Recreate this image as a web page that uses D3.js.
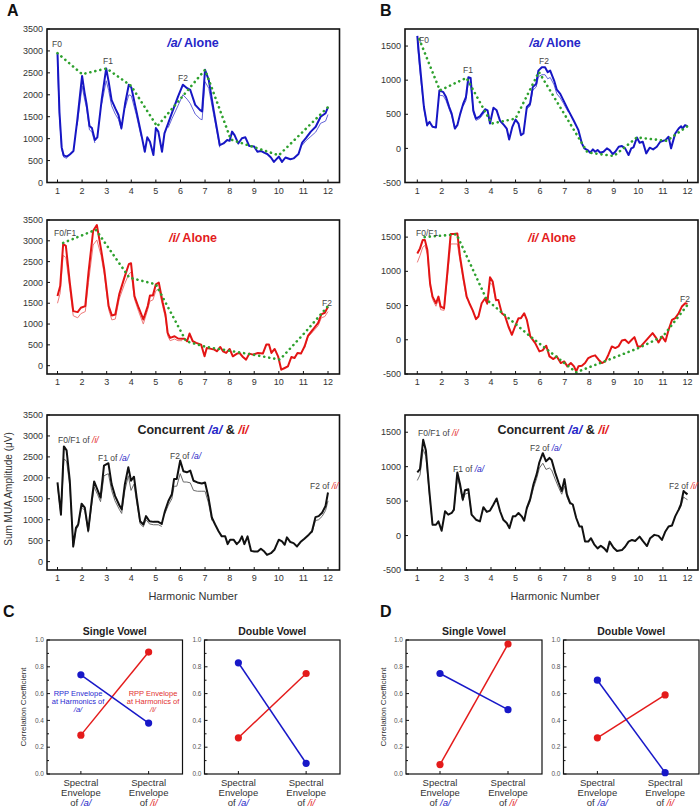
<!DOCTYPE html>
<html><head><meta charset="utf-8">
<script src="https://cdn.jsdelivr.net/npm/d3@7"></script>
<style>body{margin:0;background:#fff}svg{display:block}</style>
</head><body>
<script>
// ---------------- DATA ----------------
const harmonicTicks = [1,2,3,4,5,6,7,8,9,10,11,12];
const ticksA = [0,500,1000,1500,2000,2500,3000,3500];
const ticksB = [-500,0,500,1000,1500];

// Panel A, /a/ alone
const aAloneThick = [[1,2950],[1.08,1600],[1.17,800],[1.25,620],[1.38,590],[1.5,640],[1.65,720],[1.8,1400],[2.0,2430],[2.1,2050],[2.18,1800],[2.3,1290],[2.4,1240],[2.52,970],[2.62,1030],[2.8,1900],[2.98,2600],[3.08,2300],[3.2,1880],[3.35,1690],[3.48,1540],[3.6,1240],[3.75,1800],[3.9,2230],[4.0,2170],[4.2,1650],[4.4,1120],[4.55,700],[4.65,1030],[4.76,930],[4.9,625],[5.0,1240],[5.1,1160],[5.25,700],[5.35,1120],[5.5,1350],[5.65,1580],[5.9,1960],[6.1,2230],[6.27,2150],[6.4,2110],[6.6,1770],[6.8,1650],[6.88,1620],[7.0,2570],[7.15,2340],[7.35,1650],[7.6,850],[7.75,890],[7.9,970],[8.0,950],[8.1,1160],[8.2,1080],[8.35,890],[8.5,1010],[8.64,1030],[8.8,830],[9.0,820],[9.13,700],[9.27,720],[9.4,680],[9.53,650],[9.68,570],[9.8,470],[10.0,590],[10.13,470],[10.27,570],[10.47,530],[10.6,550],[10.8,650],[10.95,910],[11.1,1010],[11.3,1160],[11.5,1270],[11.7,1500],[11.9,1580],[12.0,1720]];
const aAloneThin = [
 [[1,2650],[1.08,1500],[1.17,760],[1.25,580],[1.38,550]],
 [[1.8,1300],[2.0,2200],[2.1,1900],[2.18,1700],[2.3,1200],[2.4,1150],[2.52,900]],
 [[2.8,1800],[2.98,2320],[3.08,2100],[3.2,1750],[3.35,1560],[3.48,1440],[3.6,1200]],
 [[3.75,1700],[3.9,2000],[4.0,1980],[4.2,1550],[4.4,1050]],
 [[5.5,1250],[5.65,1450],[5.9,1750],[6.1,2000],[6.27,1900],[6.4,1800],[6.6,1560],[6.8,1450],[6.88,1430],[7.0,2300],[7.15,2150],[7.35,1550],[7.6,800]],
 [[10.95,850],[11.1,950],[11.3,1050],[11.5,1150],[11.7,1350],[11.9,1400],[12.0,1550]]
];
const aAloneEnv = [[1,2950],[2,2470],[3,2600],[4,2200],[5.05,1280],[7,2570],[8.05,980],[10,620],[12,1720]];

// Panel A, /i/ alone
const iAloneThick = [[1,1673],[1.11,1915],[1.23,2920],[1.34,2880],[1.5,1995],[1.64,1311],[1.82,1287],[1.95,1392],[2.13,1432],[2.26,2236],[2.45,3242],[2.6,3379],[2.77,2800],[2.9,2317],[3.08,1432],[3.21,1207],[3.35,1231],[3.51,1714],[3.72,2116],[3.9,2438],[3.99,2462],[4.13,1673],[4.3,1392],[4.49,1110],[4.67,1432],[4.76,1689],[4.88,1689],[5.0,1955],[5.12,1995],[5.28,1512],[5.39,1231],[5.48,788],[5.58,668],[5.76,708],[5.9,652],[6.07,644],[6.17,644],[6.27,587],[6.37,772],[6.5,587],[6.64,547],[6.84,507],[6.98,225],[7.07,426],[7.2,410],[7.38,386],[7.48,346],[7.62,450],[7.73,346],[7.86,306],[8.0,402],[8.13,225],[8.3,290],[8.4,306],[8.54,209],[8.67,145],[8.8,290],[8.95,265],[9.15,306],[9.35,290],[9.49,507],[9.6,507],[9.7,306],[9.83,402],[9.97,225],[10.1,-97],[10.24,-56],[10.37,-16],[10.51,209],[10.64,185],[10.76,306],[10.9,290],[11.05,467],[11.19,724],[11.39,869],[11.6,1030],[11.73,1231],[11.87,1271],[12.0,1416]];
const iAloneThin = [
 [[1,1500],[1.11,1750],[1.23,2650],[1.34,2600],[1.5,1850],[1.64,1200],[1.82,1150],[1.95,1250],[2.13,1300],[2.26,2000],[2.45,2900],[2.6,3020],[2.77,2650],[2.9,2200],[3.08,1350],[3.21,1100],[3.35,1120],[3.51,1600],[3.72,1950],[3.9,2200],[3.99,2250],[4.13,1600],[4.3,1300],[4.49,1000],[4.67,1350],[4.76,1550],[4.88,1580],[5.0,1800],[5.12,1850],[5.28,1420],[5.39,1150],[5.48,720],[5.58,600],[5.76,640],[5.9,600],[6.07,600]],
 [[11.05,430],[11.19,690],[11.39,820],[11.6,960],[11.73,1150],[11.87,1180],[12.0,1300]]
];
const iAloneEnv = [[1.23,2950],[2.56,3266],[3.92,2116],[5.0,1955],[6.23,587],[7.05,450],[8.95,265],[10.04,145],[11.05,788],[12,1432]];

// Panel A, concurrent
const concThick = [[1,1890],[1.14,1126],[1.26,2751],[1.37,2655],[1.5,1931],[1.64,362],[1.75,805],[1.84,885],[1.98,1384],[2.11,1287],[2.25,740],[2.39,1448],[2.49,1915],[2.63,1706],[2.75,1529],[2.89,2293],[3.07,2349],[3.2,1850],[3.34,1569],[3.51,1352],[3.61,1247],[3.74,1850],[3.88,2253],[3.99,1931],[4.11,2027],[4.22,1529],[4.36,965],[4.49,885],[4.6,1086],[4.74,965],[4.9,949],[5.1,949],[5.24,901],[5.37,1207],[5.51,1448],[5.65,1609],[5.74,1971],[5.85,1971],[5.99,2413],[6.12,2156],[6.26,2132],[6.4,2172],[6.53,1931],[6.69,1890],[6.87,1866],[7.0,1890],[7.14,1529],[7.28,1046],[7.41,885],[7.55,724],[7.68,603],[7.82,603],[7.92,418],[8.02,523],[8.16,523],[8.29,418],[8.4,483],[8.5,603],[8.6,418],[8.73,603],[8.87,257],[9.0,241],[9.14,241],[9.27,306],[9.41,241],[9.52,161],[9.68,201],[9.82,282],[10.0,523],[10.13,483],[10.24,402],[10.33,579],[10.47,467],[10.6,442],[10.74,362],[10.88,467],[11.04,547],[11.22,644],[11.35,724],[11.49,1062],[11.62,1086],[11.76,1166],[11.9,1327],[12.0,1649]];
const concThin = [
 [[1,1800],[1.14,1100],[1.26,2450],[1.37,2400],[1.5,1800],[1.64,340],[1.75,760],[1.84,840],[1.98,1300],[2.11,1220],[2.25,700],[2.39,1350],[2.49,1780],[2.63,1600],[2.75,1430],[2.89,2050],[3.07,2100],[3.2,1700],[3.34,1450],[3.51,1250],[3.61,1150],[3.74,1700],[3.88,2050],[3.99,1700],[4.11,1850],[4.22,1420],[4.36,900],[4.49,830],[4.6,1000],[4.74,900],[4.9,880],[5.1,880],[5.24,840]],
 [[5.37,1150],[5.51,1350],[5.65,1500],[5.74,1800],[5.85,1800],[5.99,2100],[6.12,1900],[6.26,1900],[6.4,1880],[6.53,1700],[6.69,1680],[6.87,1680],[7.0,1680],[7.14,1400],[7.28,980]],
 [[11.35,690],[11.49,980],[11.62,1000],[11.76,1080],[11.9,1220],[12.0,1450]]
];

// Panel B, /a/ alone
const aAloneThickB = [[1,1650],[1.1,1250],[1.18,946],[1.27,607],[1.4,340],[1.5,388],[1.62,316],[1.76,306],[1.9,850],[2.06,825],[2.17,752],[2.3,607],[2.4,510],[2.53,291],[2.63,340],[2.75,510],[2.87,655],[2.98,752],[3.08,1044],[3.17,1034],[3.28,558],[3.39,437],[3.55,470],[3.76,573],[3.86,558],[3.96,364],[4.1,597],[4.23,558],[4.37,403],[4.53,340],[4.64,291],[4.74,131],[4.87,316],[5.0,422],[5.12,364],[5.22,194],[5.32,218],[5.46,607],[5.59,655],[5.7,898],[5.84,946],[5.93,1140],[6.07,1189],[6.2,1189],[6.31,1117],[6.41,1140],[6.57,995],[6.68,860],[6.82,800],[6.95,703],[7.15,558],[7.36,413],[7.56,267],[7.7,73],[7.8,0],[7.93,-24],[8.04,-63],[8.15,-15],[8.24,-49],[8.34,-24],[8.45,-63],[8.58,-49],[8.72,0],[8.83,-24],[8.96,-83],[9.06,-49],[9.2,24],[9.33,34],[9.46,0],[9.6,-97],[9.71,0],[9.8,15],[9.94,160],[10.05,83],[10.18,97],[10.32,-73],[10.46,10],[10.6,-15],[10.75,24],[10.89,97],[11.1,121],[11.23,170],[11.33,0],[11.5,218],[11.64,291],[11.74,325],[11.8,291],[11.9,340],[12.0,325]];
const aAloneThinB = [
 [[1,1550],[1.1,1150],[1.18,880],[1.27,580],[1.4,320]],
 [[1.9,780],[2.06,770],[2.17,700],[2.3,570],[2.4,480],[2.53,280]],
 [[2.87,620],[2.98,700],[3.08,980],[3.17,960],[3.28,520],[3.39,410],[3.55,440],[3.76,540]],
 [[5.46,580],[5.59,620],[5.7,850],[5.84,900],[5.93,1050],[6.07,1080],[6.2,1080],[6.31,1020],[6.41,1040],[6.57,930],[6.68,800],[6.82,740],[6.95,660],[7.15,530]]
];
const aAloneEnvB = [[1.08,1600],[1.92,850],[3.0,1034],[4.03,364],[5.0,437],[5.95,1120],[7.93,-60],[9.0,-112],[9.94,160],[11.15,110],[12,325]];

// Panel B, /i/ alone
const iAloneThickB = [[1,1262],[1.11,1335],[1.22,1456],[1.31,1456],[1.41,1311],[1.52,825],[1.62,631],[1.76,534],[1.86,631],[1.95,485],[2.09,461],[2.22,971],[2.36,1544],[2.49,1544],[2.63,1553],[2.74,1214],[2.88,898],[3.01,631],[3.12,534],[3.26,427],[3.39,301],[3.49,340],[3.62,534],[3.76,607],[3.85,534],[3.96,913],[4.07,850],[4.2,583],[4.3,583],[4.44,388],[4.57,350],[4.71,194],[4.85,73],[4.98,194],[5.12,316],[5.22,316],[5.35,388],[5.46,291],[5.6,49],[5.8,-49],[5.97,-170],[6.1,-155],[6.25,-87],[6.38,-243],[6.54,-282],[6.68,-243],[6.84,-340],[6.98,-316],[7.11,-388],[7.25,-340],[7.38,-388],[7.47,-461],[7.56,-388],[7.7,-379],[7.83,-340],[7.96,-267],[8.1,-243],[8.24,-228],[8.38,-291],[8.51,-340],[8.65,-316],[8.78,-218],[8.92,-97],[9.06,-121],[9.19,-97],[9.33,-10],[9.46,0],[9.6,-49],[9.73,0],[9.84,39],[9.97,-97],[10.1,-97],[10.28,-24],[10.46,49],[10.58,97],[10.73,24],[10.82,-39],[10.96,49],[11.1,-24],[11.23,146],[11.37,291],[11.5,316],[11.64,388],[11.77,485],[11.91,534],[12.0,524]];
const iAloneThinB = [
 [[1,1130],[1.11,1230],[1.22,1350],[1.31,1380],[1.41,1250],[1.52,780],[1.62,590],[1.76,490],[1.86,590],[1.95,440],[2.09,430],[2.22,900],[2.36,1400],[2.49,1400],[2.63,1400],[2.74,1150],[2.88,850],[3.01,600]],
 [[3.76,580],[3.85,510],[3.96,830],[4.07,800],[4.2,560]]
];
const iAloneEnvB = [[1.3,1500],[2.6,1540],[3.83,583],[5.6,49],[7.47,-475],[8.72,-301],[10.0,-121],[11.0,49],[12,510]];

// Panel B, concurrent
const concThickB = [[1,917],[1.11,966],[1.24,1392],[1.35,1235],[1.49,647],[1.62,157],[1.76,157],[1.86,206],[1.99,69],[2.13,353],[2.26,304],[2.4,328],[2.49,377],[2.63,917],[2.74,745],[2.85,525],[2.94,657],[3.08,672],[3.21,304],[3.39,230],[3.55,206],[3.69,412],[3.83,343],[3.96,363],[4.1,451],[4.23,539],[4.37,353],[4.5,230],[4.64,181],[4.75,108],[4.89,279],[4.99,279],[5.12,328],[5.25,279],[5.35,216],[5.46,402],[5.59,525],[5.73,745],[5.86,892],[5.97,1064],[6.11,1196],[6.24,1078],[6.38,1127],[6.47,1098],[6.61,917],[6.75,770],[6.88,647],[6.99,819],[7.09,598],[7.22,475],[7.33,451],[7.47,255],[7.6,132],[7.7,132],[7.83,-88],[7.96,-88],[8.07,-39],[8.2,-127],[8.34,-186],[8.47,-147],[8.61,-186],[8.72,-235],[8.83,-88],[8.99,-176],[9.13,-225],[9.33,-211],[9.46,-162],[9.6,-88],[9.74,-64],[9.87,-78],[10.05,-15],[10.18,-78],[10.35,-152],[10.48,-39],[10.65,10],[10.82,-5],[10.96,-64],[11.1,59],[11.23,132],[11.37,147],[11.5,279],[11.64,377],[11.73,451],[11.84,647],[11.91,623],[12.0,598]];
const concThinB = [
 [[1,800],[1.11,880],[1.24,1250],[1.35,1150],[1.49,600],[1.62,150]],
 [[2.49,360],[2.63,850],[2.74,700],[2.85,500],[2.94,600],[3.08,620],[3.21,290]],
 [[5.46,380],[5.59,490],[5.73,690],[5.86,830],[5.97,980],[6.11,1050],[6.24,960],[6.38,980],[6.47,950],[6.61,820],[6.75,700],[6.88,600],[6.99,720],[7.09,560],[7.22,450]],
 [[11.64,360],[11.73,420],[11.84,560],[11.91,540],[12.0,520]]
];

// Panels C and D: correlation coefficients (values at /a/ envelope, /i/ envelope)
const corrTicks = [0,0.2,0.4,0.6,0.8,1.0];
const corrMinor = [0.1,0.3,0.5,0.7,0.9];
const cSingleBlue = [0.74,0.38], cSingleRed = [0.29,0.91];
const cDoubleBlue = [0.83,0.08], cDoubleRed = [0.27,0.75];
const dSingleBlue = [0.75,0.48], dSingleRed = [0.07,0.97];
const dDoubleBlue = [0.70,0.01], dDoubleRed = [0.27,0.59];

// ---------------- DRAWING ----------------
const FONT = "'Liberation Sans', Arial, Helvetica, sans-serif";
const BLUE = "#1616c4", BLUE_T = "#6464d8";
const RED = "#e31414", RED_T = "#ee7a7a";
const BLACK = "#111", BLACK_T = "#6a6a6a";
const GREEN = "#2ea12e";
const GRAY = "#333";

const svg = d3.select("body").append("svg").attr("width",700).attr("height",808)
  .style("font-family",FONT);

const colA = {fx0:47, fx1:339.5, r:[57.5,328]};
const colB = {fx0:405, fx1:698, r:[417.3,687.5]};
const rows = [{y0:29,y1:182.5},{y0:220,y1:374},{y0:415,y1:570}];

function mainPanel(col,row,yDom,yTicks,thick,thin,env,col1,col2,clipId){
  const x = d3.scaleLinear().domain([1,12]).range(col.r);
  const y = d3.scaleLinear().domain(yDom).range([row.y1,row.y0]);
  const g = svg.append("g");
  g.append("clipPath").attr("id",clipId).append("rect")
    .attr("x",col.fx0).attr("y",row.y0).attr("width",col.fx1-col.fx0).attr("height",row.y1-row.y0);
  const line = d3.line().x(d=>x(d[0])).y(d=>y(d[1]));
  const pg = g.append("g").attr("clip-path",`url(#${clipId})`);
  thin.forEach(seg=>pg.append("path").attr("d",line(seg)).attr("fill","none")
     .attr("stroke",col2).attr("stroke-width",1).attr("stroke-linejoin","round"));
  pg.append("path").attr("d",line(thick)).attr("fill","none").attr("stroke",col1)
     .attr("stroke-width",2).attr("stroke-linejoin","round");
  if(env){
    pg.append("path").attr("d",line(env)).attr("fill","none").attr("stroke",GREEN)
      .attr("stroke-width",2.6).attr("stroke-linecap","round").attr("stroke-dasharray","0.1,5");
  }
  // frame
  g.append("rect").attr("x",col.fx0).attr("y",row.y0).attr("width",col.fx1-col.fx0)
    .attr("height",row.y1-row.y0).attr("fill","none").attr("stroke","#111").attr("stroke-width",1.6);
  // y ticks (inside) + labels
  yTicks.forEach(t=>{
    g.append("line").attr("x1",col.fx0).attr("x2",col.fx0+3).attr("y1",y(t)).attr("y2",y(t)).attr("stroke","#111");
    g.append("text").attr("x",col.fx0-4).attr("y",y(t)).attr("dy","0.35em").attr("text-anchor","end")
      .attr("font-size",9).attr("fill",GRAY).text(t);
  });
  harmonicTicks.forEach(t=>{
    g.append("line").attr("x1",x(t)).attr("x2",x(t)).attr("y1",row.y1).attr("y2",row.y1-3).attr("stroke","#111");
    g.append("text").attr("x",x(t)).attr("y",row.y1+11).attr("text-anchor","middle")
      .attr("font-size",9).attr("fill",GRAY).text(t);
  });
  return {x,y,g};
}

function richText(x,y,parts,size,anchor,bold){
  const t = svg.append("text").attr("x",x).attr("y",y).attr("font-size",size)
    .attr("text-anchor",anchor||"start").attr("font-weight",bold?"bold":"normal");
  parts.forEach(p=>{
    t.append("tspan").attr("fill",p.c||GRAY).attr("font-style",p.i?"italic":"normal").text(p.t);
  });
  return t;
}

// Row 1
mainPanel(colA,rows[0],[0,3500],ticksA,aAloneThick,aAloneThin,aAloneEnv,BLUE,BLUE_T,"c1");
mainPanel(colB,rows[0],[-500,1750],ticksB,aAloneThickB,aAloneThinB,aAloneEnvB,BLUE,BLUE_T,"c2");
// Row 2
mainPanel(colA,rows[1],[-200,3500],ticksA,iAloneThick,iAloneThin,iAloneEnv,RED,RED_T,"c3");
mainPanel(colB,rows[1],[-500,1750],ticksB,iAloneThickB,iAloneThinB,iAloneEnvB,RED,RED_T,"c4");
// Row 3
mainPanel(colA,rows[2],[-200,3500],ticksA,concThick,concThin,null,BLACK,BLACK_T,"c5");
mainPanel(colB,rows[2],[-500,1750],ticksB,concThickB,concThinB,null,BLACK,BLACK_T,"c6");

// Titles
const TB = "#2626c8", TR = "#e31c1c";
richText(193,47,[{t:"/a/",c:TB,i:true},{t:" Alone",c:TB}],12.5,"middle",true);
richText(555,47,[{t:"/a/",c:TB,i:true},{t:" Alone",c:TB}],12.5,"middle",true);
richText(193,242,[{t:"/i/",c:TR,i:true},{t:" Alone",c:TR}],12.5,"middle",true);
richText(552,242,[{t:"/i/",c:TR,i:true},{t:" Alone",c:TR}],12.5,"middle",true);
richText(193,434,[{t:"Concurrent ",c:"#222"},{t:"/a/",c:TB,i:true},{t:" & ",c:"#222"},{t:"/i/",c:TR,i:true}],12.5,"middle",true);
richText(553,434,[{t:"Concurrent ",c:"#222"},{t:"/a/",c:TB,i:true},{t:" & ",c:"#222"},{t:"/i/",c:TR,i:true}],12.5,"middle",true);

// Formant annotations
const AG = "#444";
richText(52,47,[{t:"F0",c:AG}],8.5);
richText(103,64,[{t:"F1",c:AG}],8.5);
richText(178,81,[{t:"F2",c:AG}],8.5);
richText(419,43,[{t:"F0",c:AG}],8.5);
richText(463,73,[{t:"F1",c:AG}],8.5);
richText(539,64,[{t:"F2",c:AG}],8.5);
richText(54,236,[{t:"F0/F1",c:AG}],8.5);
richText(322,306,[{t:"F2",c:AG}],8.5);
richText(416,236,[{t:"F0/F1",c:AG}],8.5);
richText(680,302,[{t:"F2",c:AG}],8.5);
richText(58,443,[{t:"F0/F1 of ",c:AG},{t:"/i/",c:TR,i:true}],8.5);
richText(98,461,[{t:"F1 of ",c:AG},{t:"/a/",c:TB,i:true}],8.5);
richText(170,459,[{t:"F2 of ",c:AG},{t:"/a/",c:TB,i:true}],8.5);
richText(310,489,[{t:"F2 of ",c:AG},{t:"/i/",c:TR,i:true}],8.5);
richText(418,436,[{t:"F0/F1 of ",c:AG},{t:"/i/",c:TR,i:true}],8.5);
richText(453,472,[{t:"F1 of ",c:AG},{t:"/a/",c:TB,i:true}],8.5);
richText(530,451,[{t:"F2 of ",c:AG},{t:"/a/",c:TB,i:true}],8.5);
richText(669,489,[{t:"F2 of ",c:AG},{t:"/i/",c:TR,i:true}],8.5);

// Axis labels
svg.append("text").attr("x",193).attr("y",600).attr("text-anchor","middle").attr("font-size",11).attr("fill",GRAY).text("Harmonic Number");
svg.append("text").attr("x",555).attr("y",600).attr("text-anchor","middle").attr("font-size",11).attr("fill",GRAY).text("Harmonic Number");
svg.append("text").attr("transform","translate(12,489) rotate(-90)").attr("text-anchor","middle").attr("font-size",10).attr("fill",GRAY).text("Sum MUA Amplitude (\u03bcV)");

// Panel letters
[["A",7,16],["B",380,16],["C",3,617],["D",380,617]].forEach(d=>{
  svg.append("text").attr("x",d[1]).attr("y",d[2]).attr("font-size",16).attr("font-weight","bold").attr("fill","#111").text(d[0]);
});

// Correlation subplots
function corrPanel(x0,x1,title,blue,red){
  const y0=640,y1=774;
  const x = d3.scaleLinear().domain([0.5,2.5]).range([x0,x1]);
  const y = d3.scaleLinear().domain([0,1]).range([y1,y0]);
  const g = svg.append("g");
  g.append("rect").attr("x",x0).attr("y",y0).attr("width",x1-x0).attr("height",y1-y0)
    .attr("fill","none").attr("stroke","#111").attr("stroke-width",1.2);
  corrTicks.forEach(t=>{
    g.append("line").attr("x1",x0).attr("x2",x0+3).attr("y1",y(t)).attr("y2",y(t)).attr("stroke","#111");
    g.append("text").attr("x",x0-3).attr("y",y(t)).attr("dy","0.35em").attr("text-anchor","end")
      .attr("font-size",6.5).attr("fill","#555").text(t.toFixed(1));
  });
  corrMinor.forEach(t=>{
    g.append("line").attr("x1",x0).attr("x2",x0+2).attr("y1",y(t)).attr("y2",y(t)).attr("stroke","#111");
  });
  [1,2].forEach(c=>{
    g.append("line").attr("x1",x(c)).attr("x2",x(c)).attr("y1",y1).attr("y2",y1-3).attr("stroke","#111");
    const lab = [["Spectral",786],["Envelope",796]];
    lab.forEach(l=>g.append("text").attr("x",x(c)).attr("y",l[1]).attr("text-anchor","middle")
      .attr("font-size",9.5).attr("fill",GRAY).text(l[0]));
    const t = g.append("text").attr("x",x(c)).attr("y",806).attr("text-anchor","middle").attr("font-size",9.5);
    t.append("tspan").attr("fill",GRAY).text("of ");
    t.append("tspan").attr("fill",c===1?TB:TR).attr("font-style","italic").text(c===1?"/a/":"/i/");
  });
  g.append("text").attr("x",(x0+x1)/2).attr("y",635).attr("text-anchor","middle")
    .attr("font-size",10.5).attr("font-weight","bold").attr("fill","#222").text(title);
  const line = d3.line().x((d,i)=>x(i+1)).y(d=>y(d));
  [[red,"#e41b1b"],[blue,"#1818c8"]].forEach(([vals,c])=>{
    g.append("path").attr("d",line(vals)).attr("fill","none").attr("stroke",c).attr("stroke-width",1.5);
    vals.forEach((v,i)=>g.append("circle").attr("cx",x(i+1)).attr("cy",y(v)).attr("r",3.6).attr("fill",c));
  });
  return {x,y};
}
corrPanel(47,182.5,"Single Vowel",cSingleBlue,cSingleRed);
corrPanel(204.5,340,"Double Vowel",cDoubleBlue,cDoubleRed);
corrPanel(406,542,"Single Vowel",dSingleBlue,dSingleRed);
corrPanel(563.5,699,"Double Vowel",dDoubleBlue,dDoubleRed);

svg.append("text").attr("transform","translate(26,707) rotate(-90)").attr("text-anchor","middle").attr("font-size",8).attr("fill",GRAY).text("Correlation Coefficient");
svg.append("text").attr("transform","translate(386,707) rotate(-90)").attr("text-anchor","middle").attr("font-size",8).attr("fill",GRAY).text("Correlation Coefficient");

// RPP annotations in C single vowel
[[78,"#2a2ad0","/a/"],[153,"#e23030","/i/"]].forEach(([cx,c,v])=>{
  [["RPP Envelope",696],["at Harmonics of",704]].forEach(l=>
    svg.append("text").attr("x",cx).attr("y",l[1]).attr("text-anchor","middle").attr("font-size",7.5).attr("fill",c).text(l[0]));
  svg.append("text").attr("x",cx).attr("y",712).attr("text-anchor","middle").attr("font-size",7.5)
    .attr("font-style","italic").attr("fill",c).text(v);
});
</script>
</body></html>
